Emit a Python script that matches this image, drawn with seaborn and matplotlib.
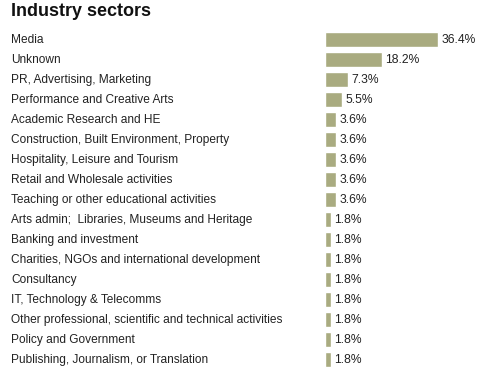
import matplotlib
matplotlib.use("Agg")
import matplotlib.pyplot as plt
import seaborn as sns
import pandas as pd

# sector shares (%)
sectors = [
    "Media",
    "Unknown",
    "PR, Advertising, Marketing",
    "Performance and Creative Arts",
    "Academic Research and HE",
    "Construction, Built Environment, Property",
    "Hospitality, Leisure and Tourism",
    "Retail and Wholesale activities",
    "Teaching or other educational activities",
    "Arts admin;  Libraries, Museums and Heritage",
    "Banking and investment",
    "Charities, NGOs and international development",
    "Consultancy",
    "IT, Technology & Telecomms",
    "Other professional, scientific and technical activities",
    "Policy and Government",
    "Publishing, Journalism, or Translation",
]
shares = [36.4, 18.2, 7.3, 5.5, 3.6, 3.6, 3.6, 3.6, 3.6,
          1.8, 1.8, 1.8, 1.8, 1.8, 1.8, 1.8, 1.8]

df = pd.DataFrame({"sector": sectors, "share": shares})

sns.set_style("white")
plt.rcParams["font.family"] = ["Liberation Sans", "DejaVu Sans"]

W, H = 486, 370
fig = plt.figure(figsize=(W / 100, H / 100), dpi=100)
# bar area: starts at x=325px, rows from y=29px to 369px
ax = fig.add_axes([325 / W, 1 - 369 / H, (W - 325) / W, 340 / H])

sns.barplot(data=df, x="share", y="sector", color="#a9ab80", saturation=1,
            width=0.75, ax=ax, orient="h")

ax.set_xlim(0, 36.4 * (W - 325) / 113)
ax.set_ylim(len(sectors) - 0.5, -0.5)
ax.axis("off")

for i, (name, val) in enumerate(zip(sectors, shares)):
    ax.text(val + 1.2, i + 0.05, f"{val}%", va="center", ha="left",
            fontsize=8.7, color="#222222")
    # category labels on the left side of the figure
    fig.text(11 / W, 1 - (40 + 20 * i) / H, name, va="center", ha="left",
             fontsize=8.6, color="#222222")

fig.text(11 / W, 1 - 12 / H, "Industry sectors", va="center", ha="left",
         fontsize=13, fontweight="bold", color="#111111")

fig.savefig("out.png", dpi=100)
